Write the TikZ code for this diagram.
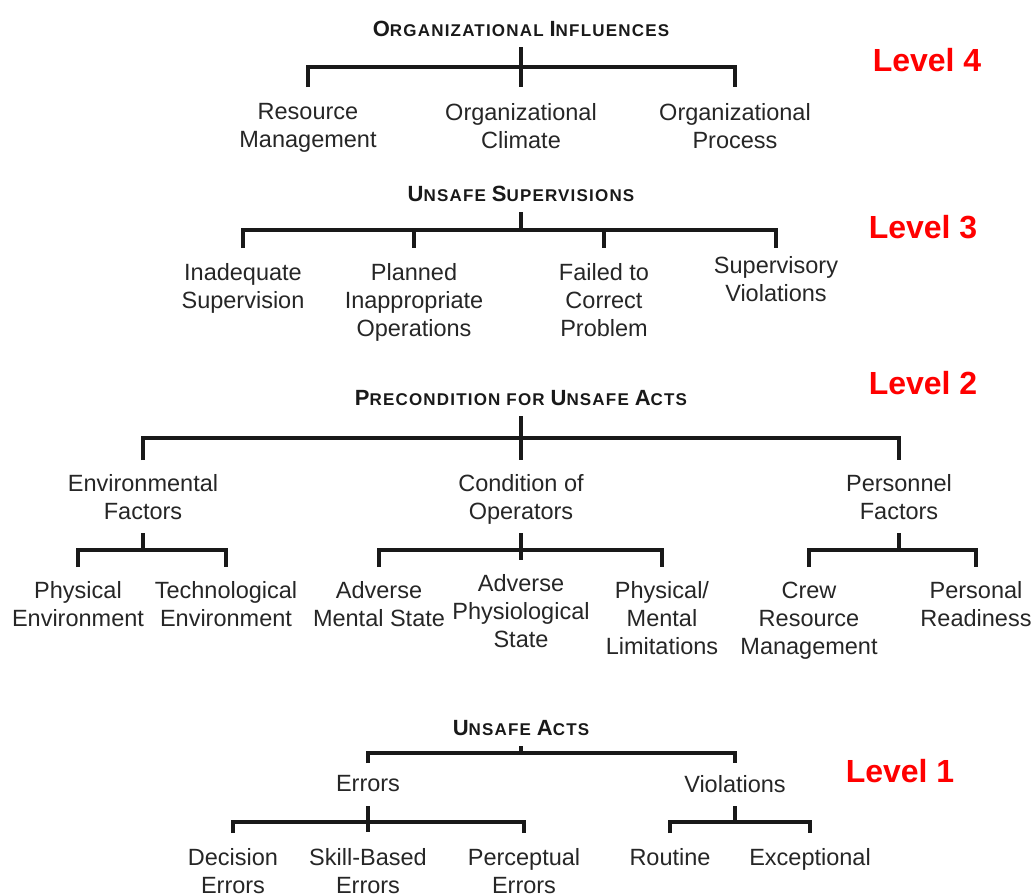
\documentclass[tikz,border=0pt]{standalone}
\usepackage{fontspec}
\setmainfont{Liberation Sans}
\newfontfamily\ttlfont[LetterSpace=7]{Liberation Sans}
\newcommand\fsc[2]{{\fontsize{22}{22}\selectfont #1}{\fontsize{17}{17}\selectfont #2}}
\tikzset{
  lbl/.style={align=center, anchor=north, inner sep=0pt, font=\fontsize{23.5}{28}\selectfont, text=black!85},
  ttl/.style={anchor=base, inner sep=0pt, font=\ttlfont\bfseries\fontsize{17}{20}\selectfont, text=black!90},
  lvl/.style={anchor=base, inner sep=0pt, font=\fontsize{32}{32}\selectfont\bfseries, text=red},
  tree/.style={line width=3.5pt, black!90}
}
\begin{document}
\begin{tikzpicture}[x=1pt,y=-1pt]
\useasboundingbox (0,0) rectangle (1035,895);
% Level 4
\node[ttl] (T4) at (521,36.6) {\fsc{O}{RGANIZATIONAL} \fsc{I}{NFLUENCES}};
\node[lbl] (A41) at (308,103.5) {Resource\\Management};
\node[lbl] (A42) at (521,103.5) {Organizational\\Climate};
\node[lbl] (A43) at (735,103.5) {Organizational\\Process};
\draw[tree] (T4 |- 0,47) -- (T4 |- 0,87);
\draw[tree] (A41 |- 0,87) -- (A41 |- 0,67) -- (A43 |- 0,67) -- (A43 |- 0,87);
% Level 3
\node[ttl] (T3) at (521,201.6) {\fsc{U}{NSAFE} \fsc{S}{UPERVISIONS}};
\node[lbl] (A31) at (243,263.5) {Inadequate\\Supervision};
\node[lbl] (A32) at (414,263.5) {Planned\\Inappropriate\\Operations};
\node[lbl] (A33) at (604,263.5) {Failed to\\Correct\\Problem};
\node[lbl] (A34) at (776,256.5) {Supervisory\\Violations};
\draw[tree] (T3 |- 0,212) -- (T3 |- 0,230);
\draw[tree] (A31 |- 0,248) -- (A31 |- 0,230) -- (A34 |- 0,230) -- (A34 |- 0,248);
\draw[tree] (A32 |- 0,230) -- (A32 |- 0,248);
\draw[tree] (A33 |- 0,230) -- (A33 |- 0,248);
% Level 2
\node[ttl] (T2) at (521,405.6) {\fsc{P}{RECONDITION FOR} \fsc{U}{NSAFE} \fsc{A}{CTS}};
\node[lbl] (B1) at (143,474.5) {Environmental\\Factors};
\node[lbl] (B2) at (521,474.5) {Condition of\\Operators};
\node[lbl] (B3) at (899,474.5) {Personnel\\Factors};
\node[lbl] (B11) at (78,581.5) {Physical\\Environment};
\node[lbl] (B12) at (226,581.5) {Technological\\Environment};
\node[lbl] (B21) at (379,581.5) {Adverse\\Mental State};
\node[lbl] (B22) at (521,574.5) {Adverse\\Physiological\\State};
\node[lbl] (B23) at (662,581.5) {Physical/\\Mental\\Limitations};
\node[lbl] (B31) at (809,581.5) {Crew\\Resource\\Management};
\node[lbl] (B32) at (976,581.5) {Personal\\Readiness};
\draw[tree] (T2 |- 0,416) -- (T2 |- 0,460);
\draw[tree] (B1 |- 0,460) -- (B1 |- 0,438) -- (B3 |- 0,438) -- (B3 |- 0,460);
\draw[tree] (B1 |- 0,533) -- (B1 |- 0,550);
\draw[tree] (B11 |- 0,567) -- (B11 |- 0,550) -- (B12 |- 0,550) -- (B12 |- 0,567);
\draw[tree] (B2 |- 0,533) -- (B2 |- 0,560);
\draw[tree] (B21 |- 0,567) -- (B21 |- 0,550) -- (B23 |- 0,550) -- (B23 |- 0,567);
\draw[tree] (B3 |- 0,533) -- (B3 |- 0,550);
\draw[tree] (B31 |- 0,567) -- (B31 |- 0,550) -- (B32 |- 0,550) -- (B32 |- 0,567);
% Level 1
\node[ttl] (T1) at (521,735.6) {\fsc{U}{NSAFE} \fsc{A}{CTS}};
\node[lbl] (C1) at (368,775.5) {Errors};
\node[lbl] (C2) at (735,775.5) {Violations};
\node[lbl] (C11) at (233,848.5) {Decision\\Errors};
\node[lbl] (C12) at (368,848.5) {Skill-Based\\Errors};
\node[lbl] (C13) at (524,848.5) {Perceptual\\Errors};
\node[lbl] (C21) at (670,848.5) {Routine};
\node[lbl] (C22) at (810,848.5) {Exceptional};
\draw[tree] (T1 |- 0,746) -- (T1 |- 0,753);
\draw[tree] (C1 |- 0,763) -- (C1 |- 0,753) -- (C2 |- 0,753) -- (C2 |- 0,763);
\draw[tree] (C1 |- 0,806) -- (C1 |- 0,832);
\draw[tree] (C11 |- 0,833) -- (C11 |- 0,822) -- (C13 |- 0,822) -- (C13 |- 0,833);
\draw[tree] (C2 |- 0,806) -- (C2 |- 0,822);
\draw[tree] (C21 |- 0,833) -- (C21 |- 0,822) -- (C22 |- 0,822) -- (C22 |- 0,833);
% Level labels
\node[lvl] (L4) at (927,71.5) {Level 4};
\node[lvl] (L3) at (923,238.5) {Level 3};
\node[lvl] (L2) at (923,394.5) {Level 2};
\node[lvl] (L1) at (900,782.5) {Level 1};
\end{tikzpicture}
\end{document}
